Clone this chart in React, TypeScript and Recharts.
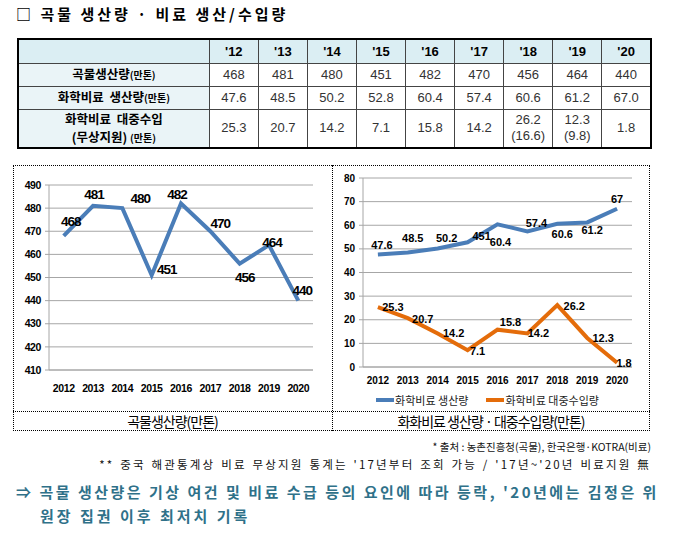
import React from 'react';
import { LineChart, Line, XAxis, YAxis, CartesianGrid, Legend } from 'recharts';

const years = ['2012', '2013', '2014', '2015', '2016', '2017', '2018', '2019', '2020'];
const yearHeaders = ["'12", "'13", "'14", "'15", "'16", "'17", "'18", "'19", "'20"];
const grainOutput = [468, 481, 480, 451, 482, 470, 456, 464, 440];
const fertilizerOutput = [47.6, 48.5, 50.2, 52.8, 60.4, 57.4, 60.6, 61.2, 67.0];
const fertilizerImports = [25.3, 20.7, 14.2, 7.1, 15.8, 14.2, 26.2, 12.3, 1.8];
const aidImports: (number | null)[] = [null, null, null, null, null, null, 16.6, 9.8, null];
const fertilizerOutputLabels = ['47.6', '48.5', '50.2', '451', '60.4', '57.4', '60.6', '61.2', '67'];
const grainTicks = [410, 420, 430, 440, 450, 460, 470, 480, 490];
const fertTicks = [0, 10, 20, 30, 40, 50, 60, 70, 80];

const grainData = years.map((year, i) => ({ year, grain: grainOutput[i] }));
const fertData = years.map((year, i) => ({
  year,
  prod: fertilizerOutput[i],
  imp: fertilizerImports[i],
}));

// label placement (style only)
const grainLabelOffsets = [[7, -14], [1, -11], [18, -10], [15, -6], [-4, -9], [10, -8], [5, 14], [3, -3], [4, -10]];
const prodLabelOffsets = [[4, -10], [5, -14], [9, -10], [14, -6], [3, 18], [9, -8], [5, 10], [5, 8], [0, -10]];
const impLabelOffsets = [[15, 0], [15, 1], [16, 0], [10, 1], [13, -8], [11, 0], [17, 1], [16, 0], [7, 0]];

const KR = "'Noto Sans CJK KR', 'Liberation Sans', sans-serif";
const NARROW = "'Liberation Sans Narrow', 'Liberation Sans', Arial, sans-serif";
const SANS = "'Liberation Sans', Arial, sans-serif";
const BLUE = '#4a7db8';
const ORANGE = '#e46c0a';
const GRID = '#a6a6a6';

const makeLabel = (offsets: number[][], texts: string[] | null, fontSize: number, family: string, spacing: number) =>
  (props: any) => {
    const { x, y, index, value } = props;
    if (x == null || y == null) return null;
    const off = offsets[index] || [0, -10];
    const t = texts ? texts[index] : String(value);
    return (
      <text
        key={`l-${index}`}
        x={x + off[0]}
        y={y + off[1]}
        textAnchor="middle"
        dominantBaseline="central"
        fontSize={fontSize}
        fontWeight="bold"
        fontFamily={family}
        letterSpacing={spacing}
        fill="#000"
      >
        {t}
      </text>
    );
  };

const cellBase: React.CSSProperties = {
  border: '1px solid #444',
  textAlign: 'center',
  padding: 0,
  verticalAlign: 'middle',
};
const headCell: React.CSSProperties = {
  ...cellBase,
  fontFamily: SANS,
  fontWeight: 'bold',
  fontSize: 13,
  color: '#000',
};
const labelCell: React.CSSProperties = {
  ...cellBase,
  fontFamily: KR,
  fontWeight: 'bold',
  fontSize: 12.5,
  color: '#000',
  background: '#eaf4f7',
  lineHeight: '18px',
};
const valCell: React.CSSProperties = {
  ...cellBase,
  fontFamily: SANS,
  fontSize: 13,
  color: '#333',
  background: '#fff',
  lineHeight: '16px',
};
const unit: React.CSSProperties = { fontSize: 10 };

const renderLegend = () => (
  <div
    style={{
      display: 'flex',
      justifyContent: 'center',
      alignItems: 'center',
      gap: 18,
      fontFamily: KR,
      fontSize: 11,
      color: '#222',
      height: 22,
      paddingLeft: 10,
    }}
  >
    <span style={{ display: 'flex', alignItems: 'center' }}>
      <span style={{ display: 'inline-block', width: 18, height: 4, background: BLUE, marginRight: 1 }} />
      화학비료 생산량
    </span>
    <span style={{ display: 'flex', alignItems: 'center' }}>
      <span style={{ display: 'inline-block', width: 18, height: 4, background: ORANGE, marginRight: 1 }} />
      화학비료 대중수입량
    </span>
  </div>
);

export default function App() {
  return (
    <div
      style={{
        position: 'absolute',
        left: 0,
        top: 0,
        width: 673,
        height: 533,
        background: '#fff',
        overflow: 'hidden',
      }}
    >
      {/* Title */}
      <div
        style={{
          position: 'absolute',
          left: 16,
          top: 3,
          fontFamily: KR,
          fontWeight: 'bold',
          fontSize: 15,
          letterSpacing: 3,
          whiteSpace: 'nowrap',
          color: '#000',
        }}
      >
        □ 곡물 생산량 · 비료 생산/수입량
      </div>

      {/* Table */}
      <table
        style={{
          position: 'absolute',
          left: 17,
          top: 38,
          width: 635,
          borderCollapse: 'collapse',
          tableLayout: 'fixed',
          border: '2px solid #000',
        }}
      >
        <colgroup>
          <col style={{ width: 191 }} />
          {years.map((y) => (
            <col key={y} style={{ width: 49 }} />
          ))}
        </colgroup>
        <tbody>
          <tr style={{ height: 24, background: '#dbeef3' }}>
            <td style={{ ...cellBase }} />
            {yearHeaders.map((h) => (
              <td key={h} style={headCell}>
                {h}
              </td>
            ))}
          </tr>
          <tr style={{ height: 23 }}>
            <td style={labelCell}>
              곡물생산량<span style={unit}>(만톤)</span>
            </td>
            {grainOutput.map((v, i) => (
              <td key={i} style={valCell}>
                {v}
              </td>
            ))}
          </tr>
          <tr style={{ height: 23 }}>
            <td style={labelCell}>
              화학비료&nbsp; 생산량<span style={unit}>(만톤)</span>
            </td>
            {fertilizerOutput.map((v, i) => (
              <td key={i} style={valCell}>
                {v.toFixed(1)}
              </td>
            ))}
          </tr>
          <tr style={{ height: 39 }}>
            <td style={labelCell}>
              화학비료&nbsp; 대중수입
              <br />
              (무상지원)&nbsp;<span style={unit}>(만톤)</span>
            </td>
            {fertilizerImports.map((v, i) => (
              <td key={i} style={valCell}>
                {v}
                {aidImports[i] != null ? (
                  <>
                    <br />({aidImports[i]})
                  </>
                ) : null}
              </td>
            ))}
          </tr>
        </tbody>
      </table>

      {/* Chart frame */}
      <div
        style={{
          position: 'absolute',
          left: 13,
          top: 165,
          width: 637,
          height: 266,
          border: '1px dotted #000',
          boxSizing: 'border-box',
        }}
      />
      <div style={{ position: 'absolute', left: 332, top: 165, width: 0, height: 266, borderLeft: '1px dotted #000' }} />
      <div style={{ position: 'absolute', left: 13, top: 411, width: 637, height: 0, borderTop: '1px dotted #000' }} />

      {/* Left chart */}
      <div style={{ position: 'absolute', left: 13, top: 165 }}>
        <LineChart width={319} height={246} data={grainData} margin={{ top: 20, right: 19, bottom: 11, left: 0 }}>
          <CartesianGrid vertical={false} stroke={GRID} strokeWidth={1} />
          <XAxis
            dataKey="year"
            height={30}
            padding={{ left: 14.7, right: 14.7 }}
            tickLine={false}
            tickSize={0}
            tickMargin={15}
            axisLine={{ stroke: GRID }}
            tick={{ fontSize: 10.5, fontWeight: 'bold', fill: '#000', fontFamily: NARROW, letterSpacing: -0.4 }}
            interval={0}
          />
          <YAxis
            domain={[410, 490]}
            ticks={grainTicks}
            width={36}
            tickSize={4}
            tickMargin={4}
            axisLine={{ stroke: GRID }}
            tickLine={{ stroke: GRID }}
            tick={{ fontSize: 10.5, fontWeight: 'bold', fill: '#000', fontFamily: NARROW, letterSpacing: -0.4 }}
            interval={0}
          />
          <Line
            type="linear"
            dataKey="grain"
            stroke={BLUE}
            strokeWidth={4}
            dot={false}
            isAnimationActive={false}
            label={makeLabel(grainLabelOffsets, null, 13.5, NARROW, -1)}
          />
        </LineChart>
      </div>

      {/* Right chart */}
      <div style={{ position: 'absolute', left: 333, top: 165 }}>
        <LineChart width={320} height={246} data={fertData} margin={{ top: 13, right: 21, bottom: 0, left: 0 }}>
          <CartesianGrid vertical={false} stroke={GRID} strokeWidth={1} />
          <XAxis
            dataKey="year"
            height={22}
            padding={{ left: 14.9, right: 14.9 }}
            tickLine={false}
            tickSize={0}
            tickMargin={10}
            axisLine={{ stroke: GRID }}
            tick={{ fontSize: 10, fontWeight: 'bold', fill: '#000', fontFamily: SANS }}
            interval={0}
          />
          <YAxis
            domain={[0, 80]}
            ticks={fertTicks}
            width={30}
            tickSize={4}
            tickMargin={4}
            axisLine={{ stroke: GRID }}
            tickLine={{ stroke: GRID }}
            tick={{ fontSize: 10, fontWeight: 'bold', fill: '#000', fontFamily: SANS }}
            interval={0}
          />
          <Legend verticalAlign="bottom" height={22} content={renderLegend} />
          <Line
            type="linear"
            dataKey="prod"
            name="화학비료 생산량"
            stroke={BLUE}
            strokeWidth={4}
            dot={false}
            isAnimationActive={false}
            label={makeLabel(prodLabelOffsets, fertilizerOutputLabels, 11, SANS, 0)}
          />
          <Line
            type="linear"
            dataKey="imp"
            name="화학비료 대중수입량"
            stroke={ORANGE}
            strokeWidth={4}
            dot={false}
            isAnimationActive={false}
            label={makeLabel(impLabelOffsets, null, 11, SANS, 0)}
          />
        </LineChart>
      </div>

      {/* Captions */}
      <div
        style={{
          position: 'absolute',
          left: 13,
          top: 411,
          width: 319,
          height: 20,
          lineHeight: '20px',
          textAlign: 'center',
          fontFamily: KR,
          fontSize: 14,
          letterSpacing: -1,
          color: '#000',
        }}
      >
        곡물생산량(만톤)
      </div>
      <div
        style={{
          position: 'absolute',
          left: 332,
          top: 411,
          width: 318,
          height: 20,
          lineHeight: '20px',
          textAlign: 'center',
          fontFamily: KR,
          fontSize: 14,
          letterSpacing: -1,
          color: '#000',
        }}
      >
        화화비료 생산량 · 대중수입량(만톤)
      </div>

      {/* Footnotes */}
      <div
        style={{
          position: 'absolute',
          right: 22,
          top: 439,
          fontFamily: KR,
          fontSize: 10.5,
          lineHeight: '16px',
          color: '#111',
          whiteSpace: 'nowrap',
        }}
      >
        * 출처 : 농촌진흥청(곡물), 한국은행·KOTRA(비료)
      </div>
      <div
        style={{
          position: 'absolute',
          right: 22,
          top: 456,
          fontFamily: KR,
          fontSize: 11.5,
          lineHeight: '16px',
          color: '#111',
          whiteSpace: 'nowrap',
          letterSpacing: 2.2,
          wordSpacing: 1,
        }}
      >
        ** 중국 해관통계상 비료 무상지원 통계는 '17년부터 조회 가능 / '17년~'20년 비료지원 無
      </div>

      {/* Conclusion */}
      <div
        style={{
          position: 'absolute',
          left: 16,
          top: 481,
          fontFamily: KR,
          fontWeight: 'bold',
          fontSize: 15,
          lineHeight: '22px',
          letterSpacing: 2.5,
          color: '#2f7189',
          whiteSpace: 'nowrap',
        }}
      >
        ⇒ 곡물 생산량은 기상 여건 및 비료 수급 등의 요인에 따라 등락, '20년에는 김정은 위
      </div>
      <div
        style={{
          position: 'absolute',
          left: 40,
          top: 505,
          fontFamily: KR,
          fontWeight: 'bold',
          fontSize: 15,
          lineHeight: '22px',
          letterSpacing: 3,
          color: '#2f7189',
          whiteSpace: 'nowrap',
        }}
      >
        원장 집권 이후 최저치 기록
      </div>
    </div>
  );
}
